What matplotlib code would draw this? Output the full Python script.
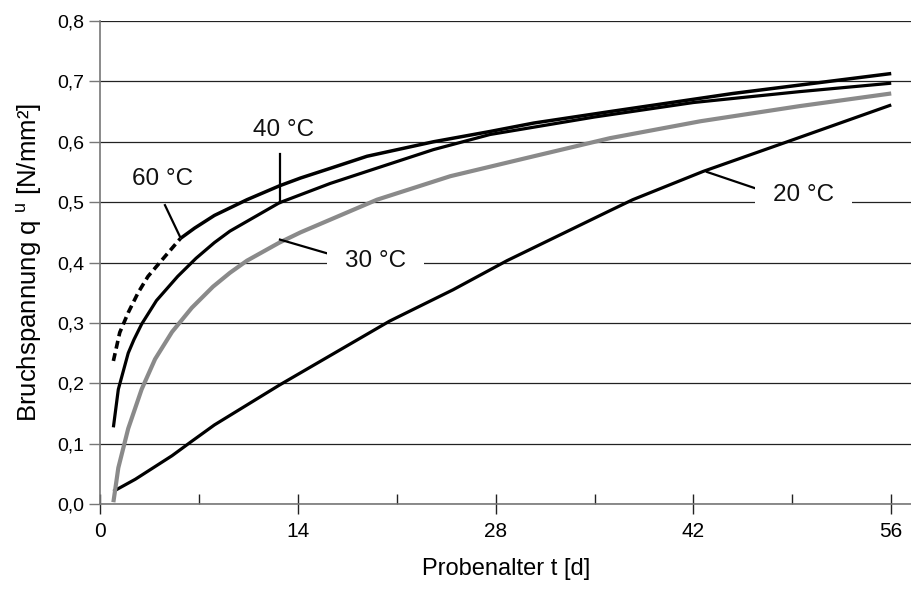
import matplotlib
matplotlib.use("Agg")
import matplotlib.pyplot as plt
from matplotlib.ticker import FixedLocator, FuncFormatter

plt.rcParams['font.family'] = ['Liberation Sans', 'DejaVu Sans']

# sample age in days and failure stress in N/mm²
t20 = [0.95, 2.5, 5.1, 6.5, 8.1, 12.7, 20.5, 25.0, 28.8, 36.1, 37.7, 42.7, 48.4, 56.0]
v20 = [0.021, 0.041, 0.080, 0.104, 0.131, 0.197, 0.303, 0.355, 0.403, 0.486, 0.504, 0.551, 0.598, 0.661]

t30 = [0.95, 1.3, 2.0, 2.95, 3.9, 5.1, 6.5, 8.0, 9.2, 10.4, 12.7, 14.2, 19.6, 24.8, 30.7, 36.1, 42.5, 49.5, 56.0]
v30 = [0.003, 0.060, 0.125, 0.190, 0.240, 0.285, 0.325, 0.360, 0.383, 0.403, 0.433, 0.450, 0.504, 0.543, 0.576, 0.606, 0.634, 0.659, 0.680]

t40 = [0.95, 1.3, 2.0, 2.4, 2.95, 4.0, 5.5, 6.8, 8.1, 9.2, 12.7, 16.3, 18.9, 23.6, 27.6, 35.0, 42.0, 49.5, 56.0]
v40 = [0.127, 0.190, 0.250, 0.272, 0.298, 0.337, 0.377, 0.407, 0.433, 0.452, 0.499, 0.531, 0.551, 0.587, 0.612, 0.641, 0.665, 0.683, 0.697]

t60 = [0.95, 1.4, 2.0, 2.7, 3.4, 4.6, 5.7, 6.7, 8.1, 10.4, 12.7, 14.2, 16.3, 18.9, 23.6, 27.6, 30.7, 36.1, 44.8, 56.0]
v60 = [0.237, 0.284, 0.317, 0.350, 0.377, 0.410, 0.440, 0.457, 0.478, 0.504, 0.527, 0.540, 0.556, 0.576, 0.600, 0.617, 0.631, 0.650, 0.680, 0.713]
n_dashed_60 = 7  # first points of the 60 °C curve are drawn dashed

x_ticks = [0, 14, 28, 42, 56]
x_minor = [7, 21, 35, 49]
y_ticks = [0.0, 0.1, 0.2, 0.3, 0.4, 0.5, 0.6, 0.7, 0.8]

# curve labels: text, text position, leader line start (on curve) and end
labels = ["60 °C", "40 °C", "30 °C", "20 °C"]
label_xy = [(4.45, 0.538), (13.0, 0.620), (19.5, 0.403), (49.8, 0.512)]
leader_from = [(5.66, 0.443), (12.74, 0.499), (12.74, 0.438), (42.96, 0.550)]
leader_to = [(4.6, 0.495), (12.74, 0.579), (16.4, 0.413), (46.5, 0.522)]
label_box = [False, False, True, True]

fig = plt.figure(figsize=(9.12, 5.92), dpi=100)
ax = fig.add_axes([0.1096, 0.1486, 0.8904, 0.8159])

ax.plot(t20, v20, color='black', lw=2.3, solid_capstyle='butt')
ax.plot(t30, v30, color='#8a8a8a', lw=3.0, solid_capstyle='butt')
ax.plot(t40, v40, color='black', lw=2.3, solid_capstyle='butt')
ax.plot(t60[:n_dashed_60], v60[:n_dashed_60], color='black', lw=2.6,
        linestyle=(0, (2.2, 1.3)))
ax.plot(t60[n_dashed_60 - 1:], v60[n_dashed_60 - 1:], color='black', lw=2.5,
        solid_capstyle='butt')

for txt, xy, p0, p1, box in zip(labels, label_xy, leader_from, leader_to, label_box):
    ax.plot([p0[0], p1[0]], [p0[1], p1[1]], color='black', lw=1.6, zorder=2.5)
    kw = {}
    if box:
        kw['bbox'] = dict(boxstyle='square,pad=0.75', fc='white', ec='none')
    ax.text(xy[0], xy[1], txt, fontsize=17.5, ha='center', va='center',
            color='#111111', zorder=3, **kw)

ax.set_xlim(0, 57.47)
ax.set_ylim(0, 0.8)
ax.xaxis.set_major_locator(FixedLocator(x_ticks))
ax.xaxis.set_minor_locator(FixedLocator(x_minor))
ax.yaxis.set_major_locator(FixedLocator(y_ticks))
ax.yaxis.set_major_formatter(FuncFormatter(lambda v, p: f"{v:.1f}".replace('.', ',')))

ax.grid(axis='y', color='#222222', lw=0.9)
ax.set_axisbelow(True)

for side in ['top', 'right']:
    ax.spines[side].set_visible(False)
for side in ['left', 'bottom']:
    ax.spines[side].set_color('#777777')
    ax.spines[side].set_linewidth(1.2)

ax.tick_params(axis='x', which='major', direction='inout', length=14, width=1.0,
               color='#222222', labelsize=15, pad=6)
ax.tick_params(axis='x', which='minor', direction='in', length=7, width=1.0,
               color='#222222')
ax.tick_params(axis='y', direction='out', length=8, width=1.0, color='#777777',
               labelsize=14, pad=3)

ax.set_xlabel("Probenalter t [d]", fontsize=17, labelpad=12)
ax.set_ylabel(r"Bruchspannung q $^{\mathregular{u}}$ [N/mm²]", fontsize=18.5, labelpad=10)

fig.savefig("out.png", dpi=100)
